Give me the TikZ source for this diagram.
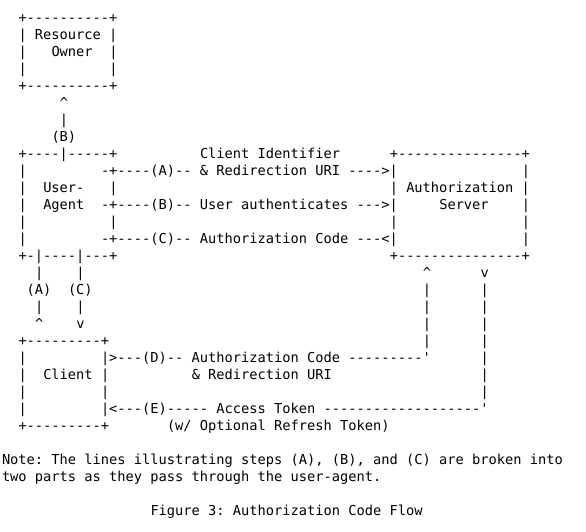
\documentclass[tikz,border=0pt]{standalone}
\usepackage{fontspec}
\setmonofont{DejaVu Sans Mono}
\tikzset{
  txt/.style={anchor=base west, inner sep=0pt, outer sep=0pt,
    font=\ttfamily\fontsize{13.7pt}{17pt}\selectfont\frenchspacing, text=black}
}
% \ch{name}{column}{row}{text}
\newcommand\ch[4]{\node[txt] (#1) at ({2pt+#2*8.25pt},{-22.5pt-#3*17pt}) {#4};}
\begin{document}
\begin{tikzpicture}
\fill[white] (0,0) rectangle (586pt,-532pt);
\useasboundingbox (0,0) rectangle (586pt,-532pt);
% Resource Owner box
\ch{ro0}{2}{0}{+----------+}
\ch{ro1}{2}{1}{| Resource |}
\ch{ro2a}{2}{2}{|}
\ch{ro2b}{6}{2}{Owner}
\ch{ro2c}{13}{2}{|}
\ch{ro3a}{2}{3}{|}
\ch{ro3b}{13}{3}{|}
\ch{ro4}{2}{4}{+----------+}
\ch{b5}{7}{5}{\textasciicircum}
\ch{b6}{7}{6}{|}
\ch{b7}{6}{7}{(B)}
% User-Agent and Authorization Server
\ch{ua8}{2}{8}{+----|-----+}
\ch{ci8}{24}{8}{Client Identifier}
\ch{as8}{47}{8}{+---------------+}
\ch{ua9}{2}{9}{|}
\ch{fa9}{12}{9}{-+----(A)-- \& Redirection URI ---->|}
\ch{as9}{63}{9}{|}
\ch{ua10a}{2}{10}{|}
\ch{ua10b}{5}{10}{User-}
\ch{ua10c}{13}{10}{|}
\ch{as10}{47}{10}{| Authorization |}
\ch{ua11a}{2}{11}{|}
\ch{ua11b}{5}{11}{Agent}
\ch{fb11}{12}{11}{-+----(B)-- User authenticates --->|}
\ch{as11a}{53}{11}{Server}
\ch{as11b}{63}{11}{|}
\ch{ua12a}{2}{12}{|}
\ch{ua12b}{13}{12}{|}
\ch{as12a}{47}{12}{|}
\ch{as12b}{63}{12}{|}
\ch{ua13}{2}{13}{|}
\ch{fc13}{12}{13}{-+----(C)-- Authorization Code ---<|}
\ch{as13}{63}{13}{|}
\ch{ua14}{2}{14}{+-|----|---+}
\ch{as14}{47}{14}{+---------------+}
% vertical links
\ch{l15a}{4}{15}{|}
\ch{l15b}{9}{15}{|}
\ch{l15c}{51}{15}{\textasciicircum}
\ch{l15d}{58}{15}{v}
\ch{l16a}{3}{16}{(A)}
\ch{l16b}{8}{16}{(C)}
\ch{l16c}{51}{16}{|}
\ch{l16d}{58}{16}{|}
\ch{l17a}{4}{17}{|}
\ch{l17b}{9}{17}{|}
\ch{l17c}{51}{17}{|}
\ch{l17d}{58}{17}{|}
\ch{l18a}{4}{18}{\textasciicircum}
\ch{l18b}{9}{18}{v}
\ch{l18c}{51}{18}{|}
\ch{l18d}{58}{18}{|}
% Client box
\ch{cl19}{2}{19}{+---------+}
\ch{l19c}{51}{19}{|}
\ch{l19d}{58}{19}{|}
\ch{cl20}{2}{20}{|}
\ch{fd20}{12}{20}{|>---(D)-- Authorization Code ---------'}
\ch{l20d}{58}{20}{|}
\ch{cl21a}{2}{21}{|}
\ch{cl21b}{5}{21}{Client}
\ch{cl21c}{12}{21}{|}
\ch{rd21}{23}{21}{\& Redirection URI}
\ch{l21d}{58}{21}{|}
\ch{cl22a}{2}{22}{|}
\ch{cl22b}{12}{22}{|}
\ch{l22d}{58}{22}{|}
\ch{cl23}{2}{23}{|}
\ch{fe23}{12}{23}{|<---(E)----- Access Token -------------------'}
\ch{cl24}{2}{24}{+---------+}
\ch{rt24}{20}{24}{(w/ Optional Refresh Token)}
% note and caption
\ch{note1}{0}{26}{Note: The lines illustrating steps (A), (B), and (C) are broken into}
\ch{note2}{0}{27}{two parts as they pass through the user-agent.}
\ch{cap}{18}{29}{Figure 3: Authorization Code Flow}
\end{tikzpicture}
\end{document}
